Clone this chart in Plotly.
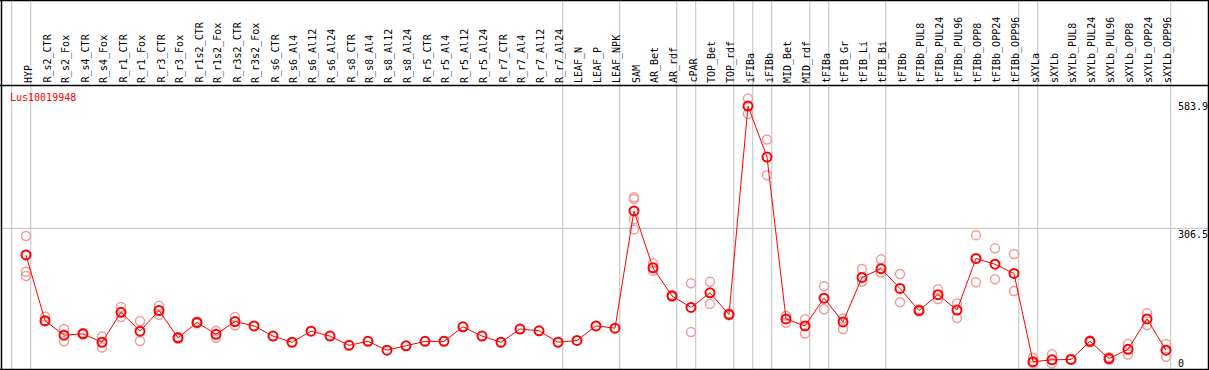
import plotly.graph_objects as go

categories = ["HYP", "R_s2_CTR", "R_s2_Fox", "R_s4_CTR", "R_s4_Fox", "R_r1_CTR", "R_r1_Fox",
              "R_r3_CTR", "R_r3_Fox", "R_r1s2_CTR", "R_r1s2_Fox", "R_r3s2_CTR", "R_r3s2_Fox",
              "R_s6_CTR", "R_s6_Al4", "R_s6_Al12", "R_s6_Al24", "R_s8_CTR", "R_s8_Al4", "R_s8_Al12",
              "R_s8_Al24", "R_r5_CTR", "R_r5_Al4", "R_r5_Al12", "R_r5_Al24", "R_r7_CTR", "R_r7_Al4",
              "R_r7_Al12", "R_r7_Al24", "LEAF_N", "LEAF_P", "LEAF_NPK", "SAM", "AR_Bet", "AR_rdf",
              "cPAR", "TOP_Bet", "TOP_rdf", "iFIBa", "iFIBb", "MID_Bet", "MID_rdf", "tFIBa",
              "tFIB_Gr", "tFIB_Li", "tFIB_Bi", "tFIBb", "tFIBb_PUL8", "tFIBb_PUL24", "tFIBb_PUL96",
              "tFIBb_OPP8", "tFIBb_OPP24", "tFIBb_OPP96", "sXYLa", "sXYLb", "sXYLb_PUL8",
              "sXYLb_PUL24", "sXYLb_PUL96", "sXYLb_OPP8", "sXYLb_OPP24", "sXYLb_OPP96"]

mean_values = [246, 97, 64, 67, 48, 116, 73, 120, 58, 93, 66, 95, 85,
               62, 48, 73, 62, 41, 50, 30, 40, 50, 50, 83, 62, 48, 78, 74, 48,
               52, 85, 80, 346, 217, 153, 127, 160, 111, 583.9, 468, 101, 85, 148,
               94, 195, 215, 170, 120, 156, 121, 238, 225, 204,
               4, 8, 9, 50, 11, 32, 101, 30]

replicate_values = [
    [289, 208, 198], [106, 95], [78, 50], [69, 66], [61, 36], [128, 105], [96, 51],
    [131, 110], [60, 56], [95, 91], [74, 58], [105, 86], [],
    [], [], [], [], [], [], [], [], [], [], [], [], [], [], [], [],
    [], [], [], [377, 373, 327, 304], [227, 210], [155, 151], [182, 71], [185, 135],
    [114, 109], [601, 566], [508, 427], [108, 92], [100, 68], [175, 123],
    [102, 78], [214, 185], [236, 206], [203, 139], [122, 119], [168, 146], [136, 103],
    [291, 184], [261, 191], [248, 164],
    [13, 0], [21, 0], [10, 9], [52, 48], [14, 8], [44, 20], [114, 87], [44, 15]]

group_ends = [-1, 0, 28, 31, 34, 35, 37, 38, 39, 41, 42, 45, 52, 53, 60]
gene_name = "Lus10019948"
y_marks = [583.9, 306.5, 0]

W, H = 1209, 370
x_idx = list(range(len(categories)))

rep_x, rep_y = [], []
for i, reps in enumerate(replicate_values):
    for v in reps:
        rep_x.append(i)
        rep_y.append(v)

fig = go.Figure()
fig.add_trace(go.Scatter(x=rep_x, y=rep_y, mode="markers",
                         marker=dict(symbol="circle-open", size=9, color="#f19c9c",
                                     line=dict(width=1.5, color="#f19c9c")),
                         hoverinfo="skip", showlegend=False))
fig.add_trace(go.Scatter(x=x_idx, y=mean_values, mode="lines+markers",
                         line=dict(color="#ff0000", width=1),
                         marker=dict(symbol="circle-open", size=9, color="#ff0000",
                                     line=dict(width=2, color="#ff0000")),
                         text=categories, showlegend=False))

shapes = []
# vertical group separators
for b in group_ends:
    shapes.append(dict(type="line", xref="x", yref="paper", x0=b + 0.25, x1=b + 0.25,
                       y0=0, y1=1, line=dict(color="#c0c0c0", width=1), layer="below"))
# reference gridline
shapes.append(dict(type="line", xref="paper", yref="y", x0=0, x1=1, y0=y_marks[1], y1=y_marks[1],
                   line=dict(color="#c0c0c0", width=1), layer="below"))
# frame
for (x0, x1, y0, y1) in [(0, 1, 1 - 0.5 / H, 1 - 0.5 / H), (0, 1, 1 - 85.5 / H, 1 - 85.5 / H),
                         (0, 1, 1 - 369.5 / H, 1 - 369.5 / H)]:
    shapes.append(dict(type="line", xref="paper", yref="paper", x0=x0, x1=x1, y0=y0, y1=y1,
                       line=dict(color="black", width=1.5)))
for xp in [1.5 / W, 1208.5 / W]:
    shapes.append(dict(type="line", xref="paper", yref="paper", x0=xp, x1=xp, y0=0, y1=1,
                       line=dict(color="black", width=1.5)))

annotations = []
for i, c in enumerate(categories):
    annotations.append(dict(x=i, xref="x", y=1 - 84 / H, yref="paper", text=c, textangle=-90,
                            showarrow=False, xanchor="center", yanchor="bottom", borderpad=0,
                            xshift=2,
                            font=dict(family="DejaVu Sans Mono", size=10, color="black")))
annotations.append(dict(x=9 / W, xref="paper", y=1 - 97 / H, yref="paper", text=gene_name,
                        showarrow=False, xanchor="left", yanchor="middle", borderpad=0,
                        font=dict(family="DejaVu Sans Mono", size=10, color="#ff0000")))
for v, anc in zip(y_marks, ["middle", "top", "middle"]):
    annotations.append(dict(x=1177 / W, xref="paper", y=v, yref="y", text=str(v) if v else "0",
                            showarrow=False, xanchor="left", yanchor=anc, borderpad=0,
                            font=dict(family="DejaVu Sans Mono", size=10, color="black")))

x0_px, dx_px = 26.0, 19.0
y0_px, ky = 363.4, 0.4408
fig.update_layout(
    width=W, height=H, margin=dict(l=0, r=0, t=0, b=0),
    paper_bgcolor="white", plot_bgcolor="white",
    xaxis=dict(range=[-x0_px / dx_px, (W - x0_px) / dx_px], showgrid=False, zeroline=False,
               showticklabels=False, ticks="", fixedrange=True),
    yaxis=dict(range=[(y0_px - H) / ky, y0_px / ky], showgrid=False, zeroline=False,
               showticklabels=False, ticks="", fixedrange=True),
    shapes=shapes, annotations=annotations, showlegend=False,
)

fig.write_html("out.html", config={"displayModeBar": False},
               post_script="document.body.style.margin='0';document.body.style.overflow='hidden';")
